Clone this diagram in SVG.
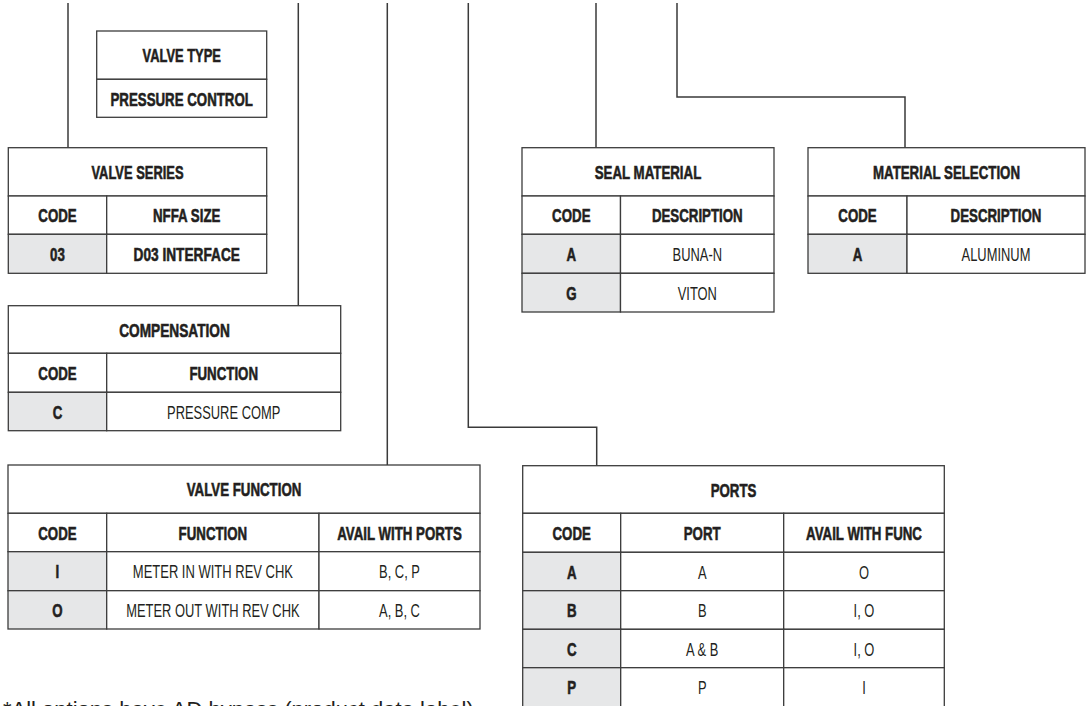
<svg xmlns="http://www.w3.org/2000/svg" width="1086" height="706" viewBox="0 0 1086 706">
<style>
.c{fill:#ffffff;stroke:#3c3c3c;stroke-width:1.3}
.g{fill:#e6e7e8;stroke:#3c3c3c;stroke-width:1.3}
.b{font-family:"Liberation Sans",Arial,sans-serif;font-weight:700;font-size:19px;text-anchor:middle;fill:#231f20;stroke:#231f20;stroke-width:0.6}
.r{font-family:"Liberation Sans",Arial,sans-serif;font-weight:400;font-size:19px;text-anchor:middle;fill:#231f20}
.ln{fill:none;stroke:#3a3a3a;stroke-width:1.5}
.fn{font-family:"Liberation Sans",Arial,sans-serif;font-size:22px;fill:#231f20}
</style>
<rect width="1086" height="706" fill="#ffffff"/>
<g id="connectors">
<path class="ln" d="M68 3V147.7"/>
<path class="ln" d="M298.3 3V305.7"/>
<path class="ln" d="M387.3 3V465"/>
<path class="ln" d="M468.3 3V427.3H596.7V465.7"/>
<path class="ln" d="M596 3V147.7"/>
<path class="ln" d="M677 3V97H905V147.7"/>
</g>
<g id="valve-type">
<rect class="c" x="96.7" y="31" width="170" height="48.3"/>
<rect class="c" x="96.7" y="79.3" width="170" height="38"/>
<text class="b" transform="translate(181.7 62.2) scale(0.68 1)">VALVE TYPE</text>
<text class="b" transform="translate(181.7 105.5) scale(0.7 1)">PRESSURE CONTROL</text>
</g>
<g id="valve-series">
<rect class="c" x="8.3" y="147.7" width="258.4" height="48.3"/>
<rect class="c" x="8.3" y="196" width="98.4" height="38.3"/>
<rect class="c" x="106.7" y="196" width="160" height="38.3"/>
<rect class="g" x="8.3" y="234.3" width="98.4" height="39"/>
<rect class="c" x="106.7" y="234.3" width="160" height="39"/>
<text class="b" transform="translate(137.5 178.8) scale(0.68 1)">VALVE SERIES</text>
<text class="b" transform="translate(57.5 222.2) scale(0.7 1)">CODE</text>
<text class="b" transform="translate(186.7 222.2) scale(0.7 1)">NFFA SIZE</text>
<text class="b" transform="translate(57.5 260.8) scale(0.7 1)">03</text>
<text class="b" transform="translate(186.7 260.8) scale(0.72 1)">D03 INTERFACE</text>
</g>
<g id="compensation">
<rect class="c" x="8.3" y="305.7" width="332.4" height="47.6"/>
<rect class="c" x="8.3" y="353.3" width="98.4" height="39"/>
<rect class="c" x="106.7" y="353.3" width="234" height="39"/>
<rect class="g" x="8.3" y="392.3" width="98.4" height="38.4"/>
<rect class="c" x="106.7" y="392.3" width="234" height="38.4"/>
<text class="b" transform="translate(174.5 336.5) scale(0.72 1)">COMPENSATION</text>
<text class="b" transform="translate(57.5 379.8) scale(0.7 1)">CODE</text>
<text class="b" transform="translate(223.7 379.8) scale(0.7 1)">FUNCTION</text>
<text class="b" transform="translate(57.5 418.5) scale(0.7 1)">C</text>
<text class="r" transform="translate(223.7 418.5) scale(0.68 1)">PRESSURE COMP</text>
</g>
<g id="valve-function">
<rect class="c" x="8" y="465" width="472" height="48.3"/>
<rect class="c" x="8" y="513.3" width="98.7" height="38.4"/>
<rect class="c" x="106.7" y="513.3" width="212.3" height="38.4"/>
<rect class="c" x="319" y="513.3" width="161" height="38.4"/>
<rect class="g" x="8" y="551.7" width="98.7" height="39"/>
<rect class="c" x="106.7" y="551.7" width="212.3" height="39"/>
<rect class="c" x="319" y="551.7" width="161" height="39"/>
<rect class="g" x="8" y="590.7" width="98.7" height="38.3"/>
<rect class="c" x="106.7" y="590.7" width="212.3" height="38.3"/>
<rect class="c" x="319" y="590.7" width="161" height="38.3"/>
<text class="b" transform="translate(244 496.2) scale(0.7 1)">VALVE FUNCTION</text>
<text class="b" transform="translate(57.4 539.5) scale(0.7 1)">CODE</text>
<text class="b" transform="translate(212.9 539.5) scale(0.7 1)">FUNCTION</text>
<text class="b" transform="translate(399.5 539.5) scale(0.7 1)">AVAIL WITH PORTS</text>
<text class="b" transform="translate(57.4 578.2) scale(0.7 1)">I</text>
<text class="r" transform="translate(212.9 578.2) scale(0.684 1)">METER IN WITH REV CHK</text>
<text class="r" transform="translate(399.5 578.2) scale(0.68 1)">B, C, P</text>
<text class="b" transform="translate(57.4 616.8) scale(0.7 1)">O</text>
<text class="r" transform="translate(212.9 616.8) scale(0.68 1)">METER OUT WITH REV CHK</text>
<text class="r" transform="translate(399.5 616.8) scale(0.68 1)">A, B, C</text>
</g>
<g id="seal-material">
<rect class="c" x="522" y="147.7" width="252" height="48.3"/>
<rect class="c" x="522" y="196" width="98.5" height="38.3"/>
<rect class="c" x="620.5" y="196" width="153.5" height="38.3"/>
<rect class="g" x="522" y="234.3" width="98.5" height="39"/>
<rect class="c" x="620.5" y="234.3" width="153.5" height="39"/>
<rect class="g" x="522" y="273.3" width="98.5" height="38.7"/>
<rect class="c" x="620.5" y="273.3" width="153.5" height="38.7"/>
<text class="b" transform="translate(648 178.8) scale(0.7 1)">SEAL MATERIAL</text>
<text class="b" transform="translate(571.3 222.2) scale(0.7 1)">CODE</text>
<text class="b" transform="translate(697.3 222.2) scale(0.7 1)">DESCRIPTION</text>
<text class="b" transform="translate(571.3 260.8) scale(0.7 1)">A</text>
<text class="r" transform="translate(697.3 260.8) scale(0.68 1)">BUNA-N</text>
<text class="b" transform="translate(571.3 299.7) scale(0.7 1)">G</text>
<text class="r" transform="translate(697.3 299.7) scale(0.68 1)">VITON</text>
</g>
<g id="material-selection">
<rect class="c" x="808" y="147.7" width="277" height="48.3"/>
<rect class="c" x="808" y="196" width="99" height="38.3"/>
<rect class="c" x="907" y="196" width="178" height="38.3"/>
<rect class="g" x="808" y="234.3" width="99" height="39"/>
<rect class="c" x="907" y="234.3" width="178" height="39"/>
<text class="b" transform="translate(946.5 178.8) scale(0.7 1)">MATERIAL SELECTION</text>
<text class="b" transform="translate(857.5 222.2) scale(0.7 1)">CODE</text>
<text class="b" transform="translate(996 222.2) scale(0.7 1)">DESCRIPTION</text>
<text class="b" transform="translate(857.5 260.8) scale(0.7 1)">A</text>
<text class="r" transform="translate(996 260.8) scale(0.68 1)">ALUMINUM</text>
</g>
<g id="ports">
<rect class="c" x="522.7" y="465.7" width="421.6" height="47.6"/>
<rect class="c" x="522.7" y="513.3" width="98" height="39"/>
<rect class="c" x="620.7" y="513.3" width="163" height="39"/>
<rect class="c" x="783.7" y="513.3" width="160.6" height="39"/>
<rect class="g" x="522.7" y="552.3" width="98" height="38.4"/>
<rect class="c" x="620.7" y="552.3" width="163" height="38.4"/>
<rect class="c" x="783.7" y="552.3" width="160.6" height="38.4"/>
<rect class="g" x="522.7" y="590.7" width="98" height="38.6"/>
<rect class="c" x="620.7" y="590.7" width="163" height="38.6"/>
<rect class="c" x="783.7" y="590.7" width="160.6" height="38.6"/>
<rect class="g" x="522.7" y="629.3" width="98" height="38.4"/>
<rect class="c" x="620.7" y="629.3" width="163" height="38.4"/>
<rect class="c" x="783.7" y="629.3" width="160.6" height="38.4"/>
<rect class="g" x="522.7" y="667.7" width="98" height="40"/>
<rect class="c" x="620.7" y="667.7" width="163" height="40"/>
<rect class="c" x="783.7" y="667.7" width="160.6" height="40"/>
<text class="b" transform="translate(733.5 496.5) scale(0.7 1)">PORTS</text>
<text class="b" transform="translate(571.7 539.8) scale(0.7 1)">CODE</text>
<text class="b" transform="translate(702.2 539.8) scale(0.7 1)">PORT</text>
<text class="b" transform="translate(864 539.8) scale(0.7 1)">AVAIL WITH FUNC</text>
<text class="b" transform="translate(571.7 578.5) scale(0.7 1)">A</text>
<text class="r" transform="translate(702.2 578.5) scale(0.68 1)">A</text>
<text class="r" transform="translate(864 578.5) scale(0.68 1)">O</text>
<text class="b" transform="translate(571.7 617) scale(0.7 1)">B</text>
<text class="r" transform="translate(702.2 617) scale(0.68 1)">B</text>
<text class="r" transform="translate(864 617) scale(0.68 1)">I, O</text>
<text class="b" transform="translate(571.7 655.5) scale(0.7 1)">C</text>
<text class="r" transform="translate(702.2 655.5) scale(0.68 1)">A &amp; B</text>
<text class="r" transform="translate(864 655.5) scale(0.68 1)">I, O</text>
<text class="b" transform="translate(571.7 694.3) scale(0.7 1)">P</text>
<text class="r" transform="translate(702.2 694.3) scale(0.68 1)">P</text>
<text class="r" transform="translate(864 694.3) scale(0.68 1)">I</text>
</g>
<text id="footnote" class="fn" x="3" y="717">*All options have AD bypass (product data label)</text>
</svg>
